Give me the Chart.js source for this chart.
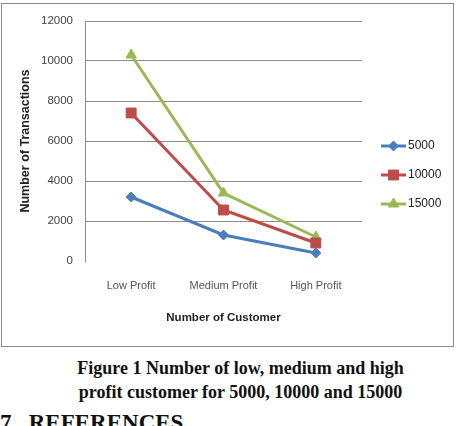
<!DOCTYPE html>
<html>
<head>
<meta charset="utf-8">
<script src="https://cdn.jsdelivr.net/npm/chart.js@4.4.1/dist/chart.umd.min.js"></script>
<style>
  body { margin: 0; background: #fff; width: 459px; height: 426px; overflow: hidden; position: relative; }
  #box { position: absolute; left: 1px; top: 3px; width: 451px; height: 342px; border: 1px solid #8a8a8a; }
  #wrap { position: absolute; left: 0; top: 0; width: 459px; height: 346px; }
  .cap { position: absolute; left: 0; width: 481px; text-align: center; font-family: "Liberation Serif", serif; font-weight: bold; font-size: 18px; line-height: 24px; color: #111; }
  #refs { position: absolute; left: 0; top: 410px; font-family: "Liberation Serif", serif; font-weight: bold; font-size: 23px; line-height: 26px; color: #111; }
</style>
</head>
<body>
<div id="box"></div>
<div id="wrap"><canvas id="myChart" width="459" height="346"></canvas></div>
<div class="cap" style="top:356px">Figure 1 Number of low, medium and high</div>
<div class="cap" style="top:380px">profit customer for 5000, 10000 and 15000</div>
<div id="refs">7.&nbsp; REFERENCES</div>
<script>
const categories = ['Low Profit', 'Medium Profit', 'High Profit'];
const seriesNames = ['5000', '10000', '15000'];
const values5000 = [3200, 1300, 400];
const values10000 = [7400, 2550, 900];
const values15000 = [10300, 3400, 1200];
const yTicks = [0, 2000, 4000, 6000, 8000, 10000, 12000];

const colors = ['#4a7ebb', '#be4b48', '#98b954'];
const styles = ['rectRot', 'rect', 'triangle'];
const radii = [5, 7, 6];

// legend drawn at the right, line + marker like the office chart
const sideLegend = {
    id: 'sideLegend',
    afterDraw(chart) {
        const ctx = chart.ctx;
        chart.data.datasets.forEach(function(ds, i) {
            const y = 146 + i * 29;
            ctx.save();
            ctx.strokeStyle = ds.borderColor;
            ctx.lineWidth = 3;
            ctx.beginPath();
            ctx.moveTo(381, y);
            ctx.lineTo(406, y);
            ctx.stroke();
            ctx.fillStyle = ds.borderColor;
            ctx.lineWidth = 1;
            Chart.helpers.drawPoint(ctx, {pointStyle: ds.pointStyle, radius: ds.pointRadius, rotation: 0, borderWidth: 1}, 393.5, y);
            ctx.fillStyle = '#222';
            ctx.font = '12px "Liberation Sans", Arial, sans-serif';
            ctx.textBaseline = 'middle';
            ctx.fillText(ds.label, 408, y);
            ctx.restore();
        });
    }
};

const datasets = [values5000, values10000, values15000].map(function(vals, i) {
    return {
        label: seriesNames[i],
        data: vals,
        borderColor: colors[i],
        backgroundColor: colors[i],
        borderWidth: 3,
        pointStyle: styles[i],
        pointRadius: radii[i],
        pointHoverRadius: radii[i],
        pointBorderWidth: 1,
        tension: 0
    };
});

new Chart(document.getElementById('myChart').getContext('2d'), {
    type: 'line',
    data: { labels: categories, datasets: datasets },
    options: {
        responsive: false,
        animation: false,
        layout: { padding: { left: 0, right: 97, top: 21, bottom: 0 } },
        plugins: { legend: { display: false }, tooltip: { enabled: false } },
        scales: {
            x: {
                offset: true,
                grid: { display: false, drawTicks: false },
                border: { display: false },
                ticks: {
                    padding: 18,
                    color: '#555',
                    font: { size: 11, family: '"Liberation Sans", Arial, sans-serif' }
                },
                title: {
                    display: true,
                    text: 'Number of Customer',
                    color: '#222',
                    padding: { top: 0, bottom: 21 },
                    font: { size: 11.5, weight: 'bold', family: '"Liberation Sans", Arial, sans-serif' }
                },
                afterFit: function(scale) { scale.height = 85; }
            },
            y: {
                min: 0,
                max: 12000,
                afterBuildTicks: function(scale) {
                    scale.ticks = yTicks.map(function(v) { return { value: v }; });
                },
                grid: {
                    drawTicks: false,
                    lineWidth: 1,
                    color: function(c) { return c.tick && c.tick.value === 0 ? 'rgba(0,0,0,0)' : '#8c8c8c'; }
                },
                border: { display: true, color: '#8c8c8c', width: 1 },
                ticks: {
                    padding: 12,
                    color: '#444',
                    font: { size: 11.5, family: '"Liberation Sans", Arial, sans-serif' },
                    callback: function(v) { return String(v); }
                },
                title: {
                    display: true,
                    text: 'Number of Transactions',
                    color: '#222',
                    padding: { top: 18, bottom: 0 },
                    font: { size: 12.5, weight: 'bold', family: '"Liberation Sans", Arial, sans-serif' }
                },
                afterFit: function(scale) { scale.width = 85; }
            }
        }
    },
    plugins: [sideLegend]
});
</script>
</body>
</html>
